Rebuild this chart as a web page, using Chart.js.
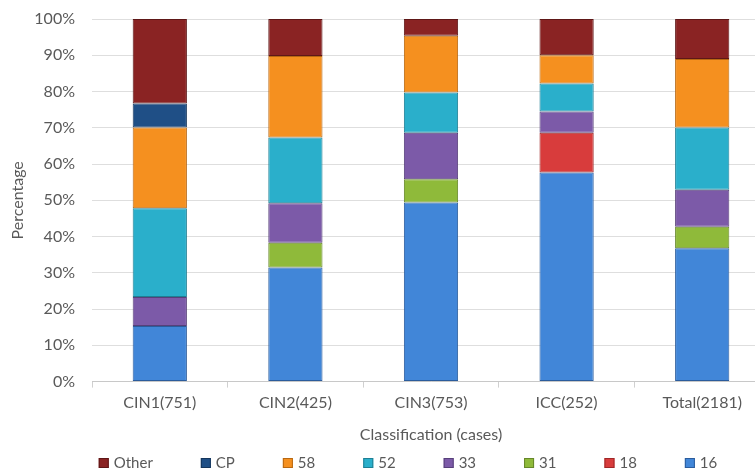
<!DOCTYPE html>
<html>
<head>
<meta charset="utf-8">
<script src="https://cdn.jsdelivr.net/npm/chart.js@4/dist/chart.umd.min.js"></script>
<style>
  html, body { margin: 0; padding: 0; background: #fff; overflow: hidden; }
  #wrap { width: 770px; height: 473px; }
</style>
</head>
<body>
<div id="wrap"><canvas id="chart"></canvas></div>
<script>
// categories and stacked shares (percent), bottom to top
const categories = ['CIN1(751)', 'CIN2(425)', 'CIN3(753)', 'ICC(252)', 'Total(2181)'];
const type16 = [15.3, 31.5, 49.4, 57.7, 36.8];
const type18 = [0, 0, 0, 10.9, 0];
const type31 = [0, 6.8, 6.4, 0, 5.9];
const type33 = [8.0, 10.9, 12.8, 5.9, 10.2];
const type52 = [24.5, 18.1, 11.1, 7.7, 17.2];
const type58 = [22.3, 22.5, 15.7, 7.8, 18.9];
const typeCP = [6.6, 0, 0, 0, 0];
const typeOther = [23.3, 10.2, 4.6, 10.0, 11.0];
const yTicks = [0, 10, 20, 30, 40, 50, 60, 70, 80, 90, 100];

const font = 'Lato, "Open Sans", sans-serif';
const grey = '#595959';

function ds(label, data, fill, border) {
  return {
    label: label,
    data: data,
    backgroundColor: fill,
    borderColor: border,
    borderWidth: 1,
    borderSkipped: false,
    categoryPercentage: 1,
    barPercentage: 0.4
  };
}

// legend along the bottom, drawn in reverse dataset order
const bottomLegend = {
  id: 'bottomLegend',
  afterDraw(chart) {
    const ctx = chart.ctx;
    const items = chart.data.datasets.slice().reverse();
    const box = 10, gap = 5, spacing = 48, y = 463;
    ctx.save();
    ctx.font = '15px ' + font;
    const widths = items.map(d => box + gap + ctx.measureText(d.label).width);
    const total = widths.reduce((a, b) => a + b, 0) + spacing * (items.length - 1);
    let x = 408 - total / 2;
    items.forEach((d, i) => {
      ctx.fillStyle = d.backgroundColor;
      ctx.fillRect(x, y - box / 2, box, box);
      ctx.strokeStyle = d.borderColor;
      ctx.lineWidth = 1;
      ctx.strokeRect(x + 0.5, y - box / 2 + 0.5, box - 1, box - 1);
      ctx.fillStyle = grey;
      ctx.textBaseline = 'middle';
      ctx.fillText(d.label, x + box + gap, y);
      x += widths[i] + spacing;
    });
    ctx.restore();
  }
};

new Chart(document.getElementById('chart'), {
  type: 'bar',
  data: {
    labels: categories,
    datasets: [
      ds('16', type16, '#4186D8', '#2B5C9C'),
      ds('18', type18, '#D83C3C', '#9E2727'),
      ds('31', type31, '#8FBA3A', '#66872A'),
      ds('33', type33, '#7C5AA8', '#57407A'),
      ds('52', type52, '#2AAFCB', '#1E7F94'),
      ds('58', type58, '#F5901F', '#B86812'),
      ds('CP', typeCP, '#1F4F86', '#15365C'),
      ds('Other', typeOther, '#8A2323', '#5E1717')
    ]
  },
  plugins: [bottomLegend],
  options: {
    responsive: true,
    maintainAspectRatio: false,
    animation: false,
    layout: { padding: { top: 19, left: 8, right: 0, bottom: 29 } },
    plugins: {
      tooltip: { enabled: false },
      legend: { display: false }
    },
    scales: {
      x: {
        stacked: true,
        grid: {
          display: true,
          offset: true,
          drawOnChartArea: false,
          drawTicks: true,
          tickLength: 6,
          color: '#d0d0d0'
        },
        border: { display: true, color: '#c8c8c8' },
        ticks: { color: grey, padding: 6, font: { family: font, size: 16 } },
        title: {
          display: true,
          text: 'Classification (cases)',
          color: grey,
          padding: { top: 6, bottom: 0 },
          font: { family: font, size: 16 }
        }
      },
      y: {
        stacked: true,
        min: 0,
        max: 100,
        afterBuildTicks: (axis) => { axis.ticks = yTicks.map(v => ({ value: v })); },
        afterFit: (axis) => {
          axis.width = 84;
          axis.paddingTop = 0;
          axis.paddingBottom = 0;
        },
        grid: { color: '#dedede', drawTicks: false },
        border: { display: false },
        ticks: {
          color: grey,
          padding: 17,
          font: { family: font, size: 16 },
          callback: (v) => v + '%'
        },
        title: {
          display: true,
          text: 'Percentage',
          color: grey,
          padding: { top: 0, bottom: 7 },
          font: { family: font, size: 16 }
        }
      }
    }
  }
});
</script>
</body>
</html>
